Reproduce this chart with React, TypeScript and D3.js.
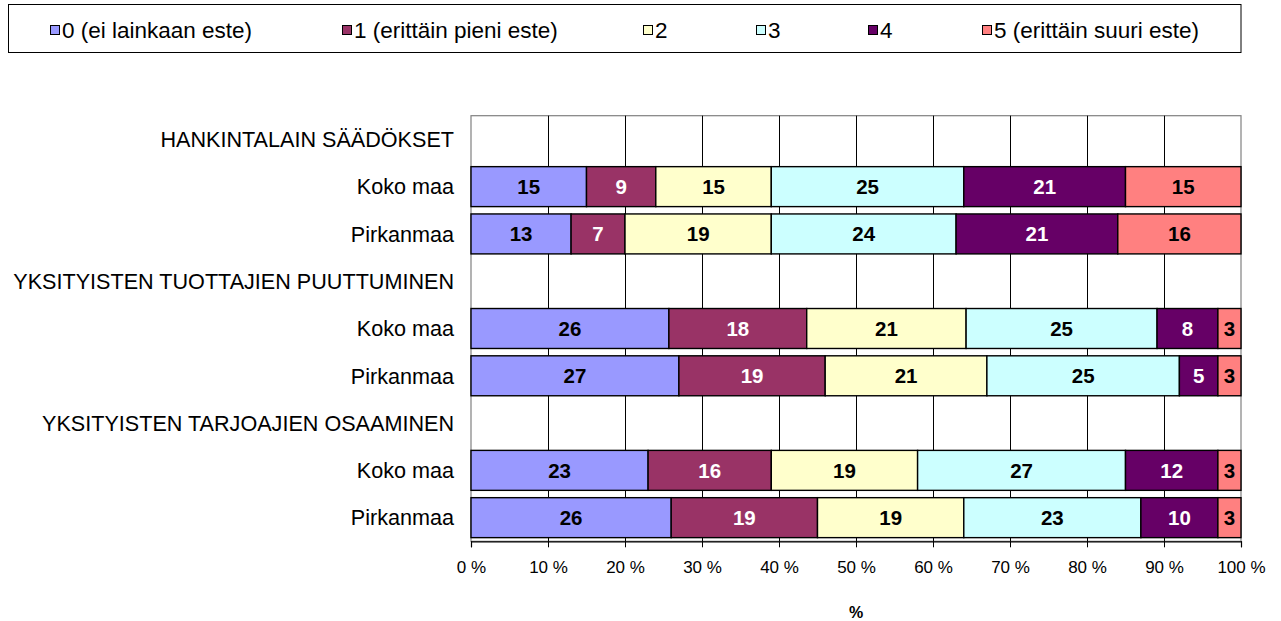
import React, { useEffect, useRef } from "react";
import * as d3 from "d3";

// Row labels (group headers have no bar)
const categories = [
    "HANKINTALAIN SÄÄDÖKSET",
    "Koko maa",
    "Pirkanmaa",
    "YKSITYISTEN TUOTTAJIEN PUUTTUMINEN",
    "Koko maa",
    "Pirkanmaa",
    "YKSITYISTEN TARJOAJIEN OSAAMINEN",
    "Koko maa",
    "Pirkanmaa",
];

const seriesNames = [
    "0 (ei lainkaan este)",
    "1 (erittäin pieni este)",
    "2",
    "3",
    "4",
    "5 (erittäin suuri este)",
];

// Percent shares per row
const s0 = [0, 15, 13, 0, 25.7, 27, 0, 23, 26];
const s1 = [0, 9, 7, 0, 17.9, 19, 0, 16, 19];
const s2 = [0, 15, 19, 0, 20.7, 21, 0, 19, 19];
const s3 = [0, 25, 24, 0, 24.8, 25, 0, 27, 23];
const s4 = [0, 21, 21, 0, 7.9, 5, 0, 12, 10];
const s5 = [0, 15, 16, 0, 3.0, 3, 0, 3, 3];

const tickValues = [0, 10, 20, 30, 40, 50, 60, 70, 80, 90, 100];

const COLORS = ["#9999FF", "#993366", "#FFFFCC", "#CCFFFF", "#660066", "#FF8080"];
const LABEL_COLORS = ["#000", "#fff", "#000", "#000", "#fff", "#000"];
const LEGEND_X = [50, 342, 643, 756, 868, 982];

const FONT = "Liberation Sans, Arial, sans-serif";
const W = 1281;
const H = 621;

const App = () => {
    const svgRef = useRef<SVGSVGElement | null>(null);

    useEffect(() => {
        document.body.style.margin = "0";
        const svg = d3.select(svgRef.current);
        svg.selectAll("*").remove();

        const plot = { left: 471, right: 1241, top: 115.7, bottom: 541.3 };

        const x = d3.scaleLinear().domain([0, 100]).range([plot.left, plot.right]);
        const y = d3.scaleBand<number>()
            .domain(d3.range(categories.length))
            .range([plot.top, plot.bottom])
            .paddingInner(0.155)
            .paddingOuter(0.0775);

        const series = [s0, s1, s2, s3, s4, s5];
        const rows = categories.map((_, i) => {
            const r: any = { idx: i };
            series.forEach((s, k) => { r["k" + k] = s[i]; });
            return r;
        });
        const stacked = d3.stack().keys(series.map((_, k) => "k" + k))(rows);

        // ── Legend ────────────────────────────────────────────────
        svg.append("rect")
            .attr("x", 8.5).attr("y", 4.5)
            .attr("width", plot.right - 8.5).attr("height", 48)
            .attr("fill", "#fff").attr("stroke", "#000").attr("stroke-width", 1);

        seriesNames.forEach((name, k) => {
            svg.append("rect")
                .attr("x", LEGEND_X[k] + 0.5).attr("y", 25.5)
                .attr("width", 9).attr("height", 9)
                .attr("fill", COLORS[k]).attr("stroke", "#000").attr("stroke-width", 1);
            svg.append("text")
                .attr("x", LEGEND_X[k] + 12).attr("y", 37.5)
                .attr("font-family", FONT).attr("font-size", "22.5px")
                .attr("fill", "#000")
                .text(name);
        });

        // ── Plot frame & gridlines ────────────────────────────────
        const g = svg.append("g");
        g.append("rect")
            .attr("x", plot.left).attr("y", plot.top)
            .attr("width", plot.right - plot.left).attr("height", plot.bottom - plot.top)
            .attr("fill", "#fff").attr("stroke", "#808080").attr("stroke-width", 1.2);

        tickValues.slice(1, -1).forEach(t => {
            g.append("line")
                .attr("x1", Math.round(x(t)) + 0.5).attr("x2", Math.round(x(t)) + 0.5)
                .attr("y1", plot.top).attr("y2", plot.bottom)
                .attr("stroke", "#000").attr("stroke-width", 1);
        });

        // ── Bars ──────────────────────────────────────────────────
        stacked.forEach((layer, k) => {
            layer.forEach((d, i) => {
                const v = series[k][i];
                if (!v) return;
                const x0 = x(d[0]);
                const x1 = x(d[1]);
                const yy = y(i) as number;
                g.append("rect")
                    .attr("x", x0).attr("y", yy)
                    .attr("width", x1 - x0).attr("height", y.bandwidth())
                    .attr("fill", COLORS[k])
                    .attr("stroke", "#000").attr("stroke-width", 1.4);
                g.append("text")
                    .attr("x", (x0 + x1) / 2)
                    .attr("y", yy + y.bandwidth() / 2)
                    .attr("dy", "0.36em")
                    .attr("text-anchor", "middle")
                    .attr("font-family", FONT).attr("font-size", "20.5px")
                    .attr("font-weight", "bold")
                    .attr("fill", LABEL_COLORS[k])
                    .text(Math.round(v));
            });
        });

        // ── Category labels ───────────────────────────────────────
        categories.forEach((c, i) => {
            svg.append("text")
                .attr("x", plot.left - 17)
                .attr("y", (y(i) as number) + y.bandwidth() / 2)
                .attr("dy", "0.36em")
                .attr("text-anchor", "end")
                .attr("font-family", FONT).attr("font-size", "21.6px")
                .attr("fill", "#000")
                .text(c);
        });

        // ── X axis ────────────────────────────────────────────────
        const axis = svg.append("g")
            .attr("transform", `translate(0,${plot.bottom})`)
            .call(d3.axisBottom(x).tickValues(tickValues).tickSize(6).tickPadding(14)
                .tickFormat(d => `${d} %`));
        axis.select(".domain").attr("stroke", "#000").attr("stroke-width", 1.2);
        axis.selectAll(".tick line").attr("stroke", "#000");
        axis.selectAll(".tick text")
            .attr("font-family", FONT).attr("font-size", "17px").attr("fill", "#000");

        svg.append("text")
            .attr("x", (plot.left + plot.right) / 2)
            .attr("y", 618)
            .attr("text-anchor", "middle")
            .attr("font-family", FONT).attr("font-size", "16px")
            .attr("font-weight", "bold")
            .text("%");
    }, []);

    return (
        <svg
            ref={svgRef}
            width={W}
            height={H}
            style={{ position: "absolute", left: 0, top: 0, background: "#fff" }}
        />
    );
};

export default App;
